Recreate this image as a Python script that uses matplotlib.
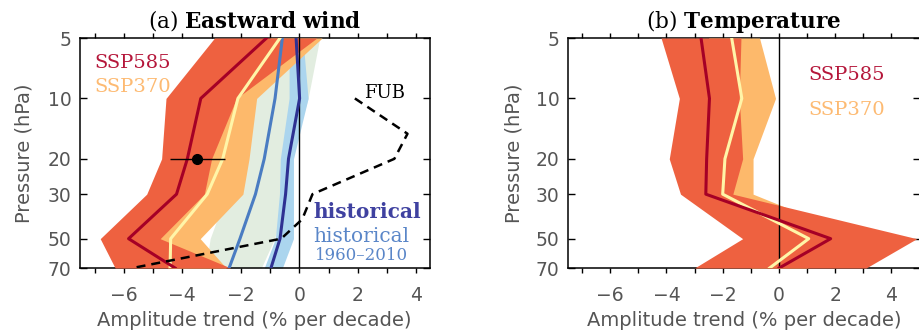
import matplotlib.pyplot as plt
from matplotlib.ticker import MultipleLocator, NullLocator

plt.rcParams['mathtext.fontset'] = 'dejavuserif'

levels = [5, 10, 20, 30, 50, 70]
level_labels = ['5', '10', '20', '30', '50', '70']
fub_levels = [10, 15, 20, 30, 40, 50, 70]

# (a) eastward wind: amplitude trend (% per decade)
u_585_lo = [-2.9, -4.56, -4.71, -5.22, -6.81, -6.3]
u_585_hi = [0.6, -2.15, -3.0, -3.25, -4.76, -2.35]
u_585 = [-1.12, -3.37, -3.83, -4.2, -5.84, -4.25]
u_370_lo = [-1.0, -3.0, -3.6, -4.0, -5.0, -4.5]
u_370_hi = [0.78, -1.46, -1.72, -1.93, -3.39, -2.5]
u_370 = [-0.66, -2.1, -2.62, -3.15, -4.4, -4.42]
u_hist_lo = [-0.35, -0.35, -0.65, -0.68, -0.82, -1.2]
u_hist_hi = [0.12, 0.3, -0.2, -0.2, -0.2, -0.58]
u_hist = [-0.11, 0.01, -0.37, -0.47, -0.66, -0.97]
u_h6010_lo = [-1.5, -2.0, -2.2, -2.5, -3.05, -3.2]
u_h6010_hi = [0.7, 0.3, -0.3, -0.4, -0.85, -1.3]
u_h6010 = [-0.58, -0.83, -1.2, -1.5, -2.03, -2.4]
u_fub = [1.9, 3.7, 3.25, 0.45, 0.1, -0.62, -5.7]
obs_p = 20
obs_val = -3.49
obs_err = 0.95

# (b) temperature
t_585_lo = [-4.19, -3.54, -3.9, -3.5, -1.29, -3.0]
t_585_hi = [-1.35, -1.41, -1.29, -1.64, 4.9, 3.1]
t_585 = [-2.77, -2.47, -2.57, -2.6, 1.84, 0.01]
t_370_lo = [-2.5, -2.5, -2.6, -2.6, 0.0, -1.0]
t_370_hi = [-0.69, -0.12, -0.92, -0.92, 3.0, 1.0]
t_370 = [-1.68, -1.32, -1.92, -2.0, 1.06, -0.33]

# colours
c_585_band = '#EE6140'
c_585_line = '#A50026'
c_370_band = '#FDB96B'
c_370_line = '#FFF5A8'
c_hist_band = '#ABD5EE'
c_hist_line = '#2E3192'
c_h6010_band = '#E2EDE0'
c_h6010_line = '#4A7CC2'
grey = '#555555'

fig = plt.figure(figsize=(9.2, 3.34), dpi=100)
ax1 = fig.add_axes([0.087, 0.1976, 0.3804, 0.6886])
ax2 = fig.add_axes([0.6174, 0.1976, 0.3821, 0.6886])


def style(ax, xlim):
    ax.set_yscale('log')
    ax.set_ylim(70, 5)
    ax.set_yticks(levels)
    ax.set_yticklabels(level_labels)
    ax.yaxis.set_minor_locator(NullLocator())
    ax.set_xlim(*xlim)
    ax.set_xticks([-6, -4, -2, 0, 2, 4])
    ax.xaxis.set_minor_locator(MultipleLocator(1))
    ax.tick_params(axis='x', which='both', direction='out', top=True, bottom=True,
                   length=3.6, width=1, labelsize=13.5, pad=9.5, labelcolor=grey)
    ax.tick_params(axis='y', which='both', direction='in', left=True, right=True,
                   length=4.8, width=1, labelsize=13.5, pad=6, labelcolor=grey)
    for s in ax.spines.values():
        s.set_linewidth(1.1)
    ax.axvline(0, color='black', lw=1.0, zorder=5)


# (a) bands, then lines
ax1.fill_betweenx(levels, u_h6010_lo, u_h6010_hi, color=c_h6010_band, lw=0, zorder=1)
ax1.fill_betweenx(levels, u_hist_lo, u_hist_hi, color=c_hist_band, lw=0, zorder=2)
ax1.fill_betweenx(levels, u_370_lo, u_370_hi, color=c_370_band, lw=0, zorder=3)
ax1.fill_betweenx(levels, u_585_lo, u_585_hi, color=c_585_band, lw=0, zorder=4)
ax1.plot(u_h6010, levels, color=c_h6010_line, lw=2.2, zorder=6)
ax1.plot(u_hist, levels, color=c_hist_line, lw=2.2, zorder=6)
ax1.plot(u_370, levels, color=c_370_line, lw=2.2, zorder=6)
ax1.plot(u_585, levels, color=c_585_line, lw=2.2, zorder=6)
ax1.plot(u_fub, fub_levels, color='black', lw=1.8, dashes=(3.6, 2.4), zorder=7)
ax1.errorbar([obs_val], [obs_p], xerr=[obs_err], fmt='o', color='black',
             ms=7, elinewidth=1.0, capsize=0, zorder=8)
style(ax1, (-7.5, 4.47))

ax1.text(0.04, 0.8696, 'SSP585', transform=ax1.transAxes, family='DejaVu Serif',
         fontsize=14, color='#B5163A', va='baseline')
ax1.text(0.04, 0.765, 'SSP370', transform=ax1.transAxes, family='DejaVu Serif',
         fontsize=14, color='#FDBA72', va='baseline')
ax1.text(0.869, 0.739, 'FUB', transform=ax1.transAxes, family='DejaVu Serif',
         fontsize=13, color='black', ha='center', va='baseline')
ax1.text(0.666, 0.2174, 'historical', transform=ax1.transAxes, family='DejaVu Serif',
         fontsize=14.5, fontweight='bold', color='#3F41A0', va='baseline', zorder=9)
ax1.text(0.666, 0.113, 'historical', transform=ax1.transAxes, family='DejaVu Serif',
         fontsize=14.5, color='#5A86C8', va='baseline', zorder=9)
ax1.text(0.671, 0.0348, '1960\u20132010', transform=ax1.transAxes, family='DejaVu Serif',
         fontsize=12, color='#5A86C8', va='baseline', zorder=9)

# (b)
ax2.fill_betweenx(levels, t_370_lo, t_370_hi, color=c_370_band, lw=0, zorder=3)
ax2.fill_betweenx(levels, t_585_lo, t_585_hi, color=c_585_band, lw=0, zorder=4)
ax2.plot(t_370, levels, color=c_370_line, lw=2.2, zorder=6)
ax2.plot(t_585, levels, color=c_585_line, lw=2.2, zorder=6)
style(ax2, (-7.5, 5.0))

ax2.text(0.683, 0.817, 'SSP585', transform=ax2.transAxes, family='DejaVu Serif',
         fontsize=14, color='#B5163A', va='baseline')
ax2.text(0.683, 0.665, 'SSP370', transform=ax2.transAxes, family='DejaVu Serif',
         fontsize=14, color='#FDBA72', va='baseline')

# titles and axis labels
fig.text(0.277, 0.917, r'(a) $\mathbf{Eastward\ wind}$', family='DejaVu Serif',
         fontsize=15.5, ha='center', va='baseline')
fig.text(0.8087, 0.917, r'(b) $\mathbf{Temperature}$', family='DejaVu Serif',
         fontsize=15.5, ha='center', va='baseline')
for xc in [0.276, 0.809]:
    fig.text(xc, 0.039, 'Amplitude trend (% per decade)', fontsize=14,
             color=grey, ha='center', va='center')
for xc in [0.026, 0.5587]:
    fig.text(xc, 0.542, 'Pressure (hPa)', fontsize=14, color=grey,
             rotation=90, ha='center', va='center')

plt.savefig('out.png', dpi=100)
